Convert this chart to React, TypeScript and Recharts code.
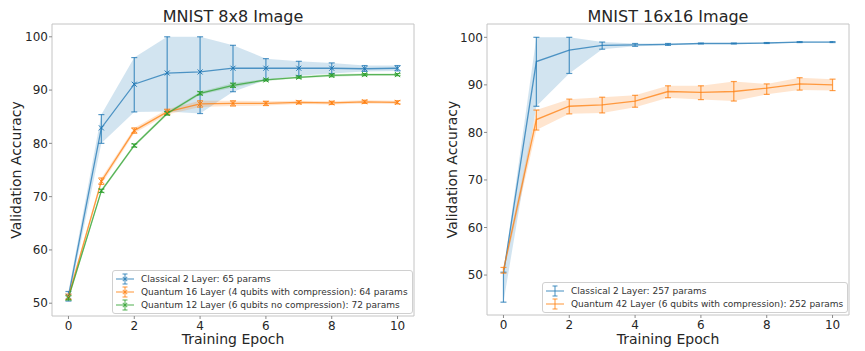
import React from "react";
import {
  ComposedChart,
  Line,
  Area,
  XAxis,
  YAxis,
  ErrorBar,
  ReferenceArea,
  Legend,
} from "recharts";

const epochs = [0, 1, 2, 3, 4, 5, 6, 7, 8, 9, 10];
const xTicks = [0, 2, 4, 6, 8, 10];
const yTicks = [50, 60, 70, 80, 90, 100];

// MNIST 8x8
const classical8Mean = [51.3, 82.9, 91.1, 93.2, 93.4, 94.1, 94.1, 94.1, 94.1, 94.0, 94.1];
const classical8Lo = [50.4, 80.0, 85.9, 86.0, 85.6, 89.7, 91.9, 92.7, 93.1, 93.5, 93.6];
const classical8Hi = [52.2, 85.4, 96.1, 100.0, 100.0, 98.4, 95.9, 95.4, 95.1, 94.6, 94.6];

const quantum16Mean = [51.2, 72.9, 82.4, 85.9, 87.4, 87.5, 87.5, 87.7, 87.6, 87.8, 87.7];
const quantum16Lo = [50.7, 72.3, 81.9, 85.4, 86.8, 87.0, 87.1, 87.4, 87.3, 87.5, 87.4];
const quantum16Hi = [51.7, 73.5, 82.9, 86.4, 88.0, 88.0, 87.9, 88.0, 87.9, 88.1, 88.0];

const quantum12Mean = [51.0, 71.1, 79.6, 85.6, 89.4, 90.9, 91.9, 92.4, 92.75, 92.9, 92.9];
const quantum12Lo = [50.6, 70.8, 79.3, 85.3, 89.1, 90.5, 91.7, 92.2, 92.5, 92.7, 92.7];
const quantum12Hi = [51.4, 71.4, 79.9, 85.9, 89.7, 91.3, 92.1, 92.6, 93.0, 93.1, 93.1];

// MNIST 16x16
const classical16Mean = [50.3, 94.9, 97.3, 98.3, 98.4, 98.5, 98.7, 98.7, 98.8, 99.0, 99.0];
const classical16Lo = [44.3, 85.5, 92.4, 97.5, 98.1, 98.3, 98.6, 98.6, 98.7, 98.9, 98.9];
const classical16Hi = [50.6, 100.0, 100.0, 99.0, 98.7, 98.7, 98.8, 98.8, 98.9, 99.1, 99.1];

const quantum42Mean = [51.1, 82.7, 85.5, 85.8, 86.6, 88.6, 88.4, 88.6, 89.3, 90.2, 90.0];
const quantum42Lo = [50.4, 80.5, 83.9, 84.1, 85.3, 87.3, 86.9, 86.6, 88.0, 88.9, 88.8];
const quantum42Hi = [51.6, 84.7, 87.0, 87.4, 87.8, 89.8, 89.8, 90.7, 90.2, 91.5, 91.2];

const BLUE = "#1f77b4";
const ORANGE = "#ff7f0e";
const GREEN = "#2ca02c";
const TEXT = "#262626";
const FONT = "'DejaVu Sans', sans-serif";

type Series = {
  key: string;
  name: string;
  color: string;
  mean: number[];
  lo: number[];
  hi: number[];
};

const series8: Series[] = [
  { key: "c8", name: "Classical 2 Layer: 65 params", color: BLUE, mean: classical8Mean, lo: classical8Lo, hi: classical8Hi },
  { key: "q16", name: "Quantum 16 Layer (4 qubits with compression): 64 params", color: ORANGE, mean: quantum16Mean, lo: quantum16Lo, hi: quantum16Hi },
  { key: "q12", name: "Quantum 12 Layer (6 qubits no compression): 72 params", color: GREEN, mean: quantum12Mean, lo: quantum12Lo, hi: quantum12Hi },
];

const series16: Series[] = [
  { key: "c16", name: "Classical 2 Layer: 257 params", color: BLUE, mean: classical16Mean, lo: classical16Lo, hi: classical16Hi },
  { key: "q42", name: "Quantum 42 Layer (6 qubits with compression): 252 params", color: ORANGE, mean: quantum42Mean, lo: quantum42Lo, hi: quantum42Hi },
];

function buildRows(list: Series[]) {
  return epochs.map((e, i) => {
    const row: any = { epoch: e };
    list.forEach((s) => {
      row[s.key] = s.mean[i];
      row[s.key + "Err"] = [s.mean[i] - s.lo[i], s.hi[i] - s.mean[i]];
      row[s.key + "Band"] = [s.lo[i], s.hi[i]];
    });
    return row;
  });
}

const XMark = (props: any) => {
  const { cx, cy, color } = props;
  if (cx == null || cy == null) return null;
  const r = 2.5;
  return (
    <path
      d={`M${cx - r},${cy - r}L${cx + r},${cy + r}M${cx - r},${cy + r}L${cx + r},${cy - r}`}
      stroke={color}
      strokeWidth={1}
      fill="none"
    />
  );
};

const YLabel = (props: any) => {
  const { viewBox, x0 } = props;
  const cy = viewBox.y + viewBox.height / 2;
  return (
    <text
      x={x0}
      y={cy}
      transform={`rotate(-90 ${x0} ${cy})`}
      textAnchor="middle"
      fontSize={14}
      fill={TEXT}
      fontFamily={FONT}
    >
      Validation Accuracy
    </text>
  );
};

const XLabel = (props: any) => {
  const { viewBox } = props;
  return (
    <text
      x={viewBox.x + viewBox.width / 2}
      y={343.5}
      textAnchor="middle"
      fontSize={14}
      fill={TEXT}
      fontFamily={FONT}
    >
      Training Epoch
    </text>
  );
};

const LegendBox = ({ items, markers }: { items: Series[]; markers: boolean }) => (
  <div
    style={{
      border: "1px solid #d0d0d0",
      borderRadius: 3,
      background: "rgba(255,255,255,0.85)",
      padding: "1px 4px 2px 3px",
      fontFamily: FONT,
      fontSize: 9,
      color: "#333",
      whiteSpace: "nowrap",
    }}
  >
    {items.map((s) => (
      <div key={s.key} style={{ display: "flex", alignItems: "center", height: 13 }}>
        <svg width={18} height={12} style={{ marginRight: 7, flex: "none" }}>
          <g stroke={s.color} strokeOpacity={0.7} strokeWidth={1.2} fill="none">
            <line x1={0} y1={6} x2={18} y2={6} />
            <line x1={9} y1={1} x2={9} y2={11} />
            <line x1={6.5} y1={1} x2={11.5} y2={1} />
            <line x1={6.5} y1={11} x2={11.5} y2={11} />
            {markers && <path d="M6.8,3.8L11.2,8.2M6.8,8.2L11.2,3.8" />}
          </g>
        </svg>
        <span>{s.name}</span>
      </div>
    ))}
  </div>
);

type PanelProps = {
  title: string;
  list: Series[];
  left: number;
  width: number;
  yAxisWidth: number;
  xAxisHeight: number;
  yDomain: [number, number];
  markers: boolean;
  yLabelX: number;
  legendLeft: number;
  legendTop: number;
};

const Panel = (p: PanelProps) => {
  const rows = buildRows(p.list);
  return (
    <div style={{ position: "absolute", left: p.left, top: 0 }}>
      <ComposedChart
        width={p.width}
        height={351}
        data={rows}
        margin={{ top: 24, right: 16, left: 0, bottom: 0 }}
      >
        <XAxis
          type="number"
          dataKey="epoch"
          domain={[-0.5, 10.5]}
          ticks={xTicks}
          allowDataOverflow
          axisLine={false}
          tickLine={{ stroke: "#8a8a8a" }}
          tickSize={3}
          tickMargin={2}
          height={p.xAxisHeight}
          tick={{ fontSize: 12, fill: TEXT, fontFamily: FONT }}
          label={<XLabel />}
        />
        <YAxis
          type="number"
          domain={p.yDomain}
          ticks={yTicks}
          allowDataOverflow
          axisLine={false}
          tickLine={{ stroke: "#8a8a8a" }}
          tickSize={3}
          tickMargin={1}
          width={p.yAxisWidth}
          tick={{ fontSize: 12, fill: TEXT, fontFamily: FONT }}
          label={<YLabel x0={p.yLabelX} />}
        />
        {p.list.map((s) => (
          <Area
            key={s.key + "Band"}
            dataKey={s.key + "Band"}
            type="linear"
            stroke="none"
            fill={s.color}
            fillOpacity={0.2}
            dot={false}
            activeDot={false}
            isAnimationActive={false}
            legendType="none"
          />
        ))}
        {p.list.map((s) => (
          <Line
            key={s.key}
            dataKey={s.key}
            name={s.name}
            type="linear"
            stroke={s.color}
            strokeOpacity={0.75}
            strokeWidth={1.3}
            dot={
              p.markers
                ? (d: any) => <XMark key={`${s.key}-${d.index}`} cx={d.cx} cy={d.cy} color={s.color} />
                : false
            }
            activeDot={false}
            isAnimationActive={false}
          >
            <ErrorBar
              dataKey={s.key + "Err"}
              direction="y"
              width={3}
              stroke={s.color}
              strokeOpacity={0.75}
              strokeWidth={1.2}
              isAnimationActive={false}
            />
          </Line>
        ))}
        <ReferenceArea
          x1={-0.5}
          x2={10.5}
          y1={p.yDomain[0]}
          y2={p.yDomain[1]}
          fill="none"
          stroke="#c4c4c4"
          strokeWidth={1}
          ifOverflow="visible"
        />
        <Legend
          layout="vertical"
          align="center"
          verticalAlign="middle"
          wrapperStyle={{ left: p.legendLeft, top: p.legendTop, width: "auto" }}
          content={() => <LegendBox items={p.list} markers={p.markers} />}
        />
      </ComposedChart>
    </div>
  );
};

export default function App() {
  return (
    <div
      style={{
        position: "absolute",
        left: 0,
        top: 0,
        width: 865,
        height: 351,
        background: "#fff",
        fontFamily: FONT,
      }}
    >
      <Panel
        title="MNIST 8x8 Image"
        list={series8}
        left={0}
        width={430}
        yAxisWidth={52}
        xAxisHeight={35}
        yDomain={[47.6, 102.4]}
        markers={true}
        yLabelX={21}
        legendLeft={112}
        legendTop={270}
      />
      <Panel
        title="MNIST 16x16 Image"
        list={series16}
        left={430}
        width={435}
        yAxisWidth={57}
        xAxisHeight={36}
        yDomain={[41.6, 102.8]}
        markers={false}
        yLabelX={27}
        legendLeft={112}
        legendTop={282}
      />
      <svg
        width={865}
        height={351}
        style={{ position: "absolute", left: 0, top: 0, pointerEvents: "none" }}
      >
        <text x={233} y={21.5} textAnchor="middle" fontSize={16} fill={TEXT} fontFamily={FONT}>
          MNIST 8x8 Image
        </text>
        <text x={668} y={21.5} textAnchor="middle" fontSize={16} fill={TEXT} fontFamily={FONT}>
          MNIST 16x16 Image
        </text>
      </svg>
    </div>
  );
}
